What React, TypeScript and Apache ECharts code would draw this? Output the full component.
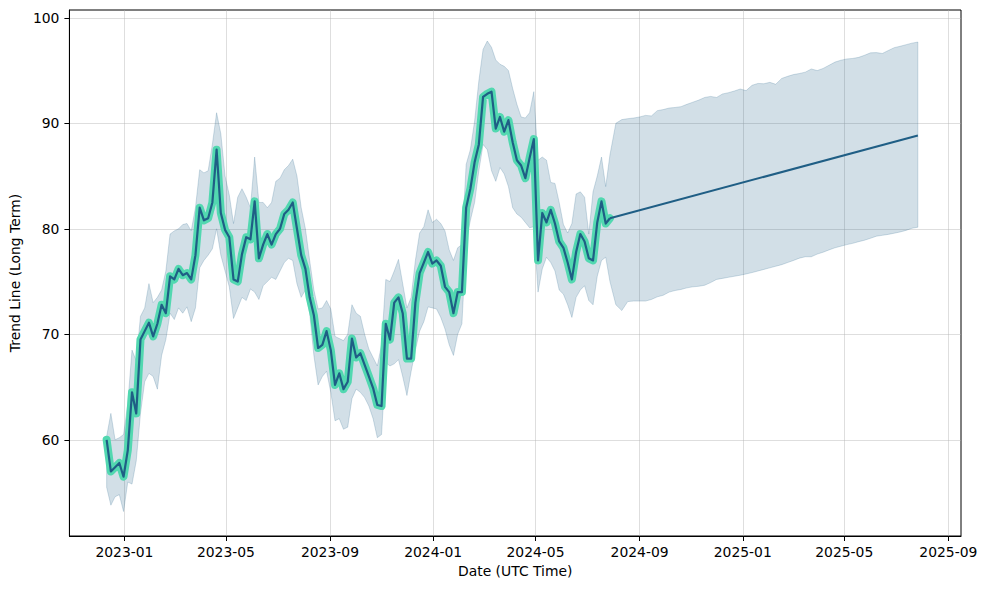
import React, { useEffect, useRef } from "react";
import * as echarts from "echarts";

// ---- data ----
const HIST_START = "2022-12-11";
const HIST_STEP_DAYS = 5;
const histTrend = [
  60.0, 57.0, 57.4, 57.8, 56.5, 59.0, 64.5, 62.5, 69.5, 70.3,
  71.1, 69.8, 71.0, 72.8, 72.0, 75.5, 75.2, 76.2, 75.6, 75.8,
  75.2, 77.5, 82.0, 80.8, 81.0, 82.5, 87.5, 81.5, 79.9, 79.2,
  75.2, 75.0, 77.6, 79.2, 79.0, 82.6, 77.2, 78.5, 79.5, 78.5,
  79.5, 80.0, 81.4, 81.8, 82.5, 80.0, 77.5, 76.2, 73.5, 71.8,
  68.7, 69.0, 70.3, 68.5, 65.2, 66.3, 64.8, 65.5, 69.6, 67.8,
  68.2, 67.1, 66.0, 64.9, 63.3, 63.2, 71.0, 69.5, 73.0, 73.5,
  72.0, 67.7, 67.7, 73.0, 75.8, 76.8, 77.8, 76.7, 77.0, 76.5,
  74.5, 74.0, 72.0, 74.0, 74.0, 82.0, 83.8, 86.3, 88.0, 92.5,
  92.8, 93.0, 89.5, 90.6, 89.2, 90.3, 88.2, 86.5, 86.0, 84.8,
  86.7, 88.5, 77.0, 81.5, 80.6, 81.8, 80.5, 78.8, 78.2, 76.8,
  75.2, 77.8, 79.5, 78.8, 77.2, 77.0, 80.6, 82.6, 80.5, 81.0,
];
const histUpper = [
  60.3, 62.5, 60.0, 60.2, 60.5, 63.4, 68.5, 67.5, 71.7, 72.5,
  74.8, 73.0, 73.5, 74.2, 76.0, 79.5, 79.8, 80.0, 80.4, 80.5,
  79.8, 82.0, 85.6, 85.3, 85.5, 88.0, 91.0, 89.0, 85.0, 83.2,
  80.5, 83.0, 83.8, 83.0, 82.0, 86.8, 82.5, 82.5, 82.0, 82.5,
  84.5, 84.8, 85.6, 86.0, 86.6, 85.0, 82.0, 80.0, 77.0, 74.2,
  72.4, 72.5, 73.2, 72.4, 69.8, 69.6, 69.4, 70.0, 72.8, 72.0,
  71.7, 70.0, 68.6, 67.8, 67.0, 69.0, 75.2, 75.0, 76.0, 77.1,
  74.8, 72.5, 73.5, 77.0, 79.6, 80.2, 81.8, 80.6, 80.9, 80.5,
  79.8, 78.0, 77.0, 78.2, 78.5, 86.1, 87.5, 90.2, 94.0, 97.0,
  97.8, 97.2, 96.0, 95.6, 95.4, 95.0, 93.3, 91.8, 90.6, 90.5,
  91.0, 93.0, 86.5, 86.8, 86.5, 84.4, 84.3, 82.5, 80.4, 79.6,
  80.5, 83.3, 83.5, 83.0, 79.5, 83.5, 85.0, 86.8, 84.0, 87.0,
];
const histLower = [
  55.5, 53.8, 54.6, 54.8, 53.2, 56.0, 55.8, 58.0, 62.5, 65.5,
  66.3, 66.0, 64.8, 68.0, 69.5, 72.0, 71.4, 72.5, 72.0, 72.6,
  71.2, 72.5, 76.3, 77.0, 77.5, 78.1, 80.0, 77.5, 76.0, 74.5,
  71.5, 72.5, 73.5, 73.2, 74.3, 74.0, 73.3, 74.6, 75.0, 75.4,
  75.2, 76.0, 76.8, 77.2, 77.0, 74.8, 73.5, 74.2, 72.0, 68.0,
  65.2, 66.0, 66.5, 64.5, 61.8, 62.0, 61.0, 61.2, 63.9, 64.8,
  64.5, 64.0, 63.2, 62.0, 60.2, 60.5, 67.3, 67.0, 67.2, 67.6,
  66.0, 64.2, 66.5, 68.5, 70.3, 71.2, 72.6, 72.5, 72.4, 71.6,
  70.5, 69.0, 68.0, 70.0, 71.0, 78.8, 80.8, 82.5, 85.5, 88.0,
  87.5, 85.5, 84.5, 85.8, 85.2, 84.0, 82.0, 81.4, 81.1, 80.6,
  80.1, 80.2, 74.0, 76.2, 77.3, 76.8, 76.0, 74.2, 73.8, 72.8,
  71.6, 73.5, 74.2, 74.6, 73.2, 72.8, 75.5, 77.0, 77.3, 75.0,
];

const FC_START = "2024-08-04";
const FC_STEP_DAYS = 7;
const fcUpper = [
  90.0, 90.35, 90.44, 90.5, 90.6, 90.75, 90.7, 91.2, 91.3, 91.45,
  91.5, 91.58, 91.8, 92.0, 92.2, 92.45, 92.55, 92.45, 92.78, 92.9,
  93.06, 93.25, 93.1, 93.6, 93.78, 93.75, 93.88, 93.7, 94.25, 94.45,
  94.62, 94.72, 94.85, 95.15, 95.0, 95.2, 95.5, 95.8, 95.98, 96.1,
  96.15, 96.25, 96.45, 96.68, 96.7, 96.62, 96.9, 97.17, 97.3, 97.45,
  97.6, 97.7,
];
const fcLower = [
  72.8, 72.25, 73.1, 73.15, 73.15, 73.15, 73.3, 73.55, 73.7, 74.0,
  74.15, 74.25, 74.4, 74.5, 74.55, 74.65, 74.9, 75.2, 75.3, 75.4,
  75.5, 75.6, 75.72, 75.85, 76.0, 76.15, 76.3, 76.45, 76.6, 76.8,
  77.0, 77.22, 77.35, 77.35, 77.6, 77.78, 78.0, 78.2, 78.35, 78.5,
  78.62, 78.78, 78.92, 79.1, 79.3, 79.38, 79.47, 79.58, 79.7, 79.85,
  80.05, 80.15,
];
const fcTrendDates = ["2024-07-28", "2025-07-27"];
const fcTrendValues = [81.0, 88.85];

const xTickDates = [
  "2023-01-01", "2023-05-01", "2023-09-01",
  "2024-01-01", "2024-05-01", "2024-09-01",
  "2025-01-01", "2025-05-01", "2025-09-01",
];
const yTicks = [60, 70, 80, 90, 100];
const X_MIN = "2022-10-28";
const X_MAX = "2025-09-16";
const Y_MIN = 50.88;
const Y_MAX = 100.74;

const DAY = 86400000;
const toT = (s: string) => Date.parse(s + "T00:00:00Z");

const LINE_COLOR = "#1f5e85";
const GLOW_COLOR = "#52d8b0";
const BAND_COLOR = "rgba(32,95,134,0.2)";

export default function App() {
  const ref = useRef<HTMLDivElement>(null);

  useEffect(() => {
    if (!ref.current) return;
    const chart = echarts.init(ref.current, undefined, { renderer: "svg" });

    const hStart = toT(HIST_START);
    const fStart = toT(FC_START);
    const histPts = histTrend.map((v, i) => [hStart + i * HIST_STEP_DAYS * DAY, v]);
    const band: number[][] = [];
    histUpper.forEach((u, i) => band.push([hStart + i * HIST_STEP_DAYS * DAY, histLower[i], u]));
    fcUpper.forEach((u, i) => band.push([fStart + i * FC_STEP_DAYS * DAY, fcLower[i], u]));
    const fcPts = fcTrendDates.map((d, i) => [toT(d), fcTrendValues[i]]);

    const font = "'DejaVu Sans', sans-serif";

    chart.setOption({
      animation: false,
      grid: {
        left: 67, right: 27, top: 10, bottom: 54,
        show: true, borderColor: "#000", borderWidth: 1, backgroundColor: "transparent",
      },
      xAxis: {
        type: "value",
        min: toT(X_MIN),
        max: toT(X_MAX),
        name: "Date (UTC Time)",
        nameLocation: "middle",
        nameGap: 28,
        nameTextStyle: { color: "#000", fontSize: 13.9, fontFamily: font },
        axisLine: { show: true, lineStyle: { color: "#000", width: 1 } },
        axisTick: {
          show: true, length: 5, inside: false,
          lineStyle: { color: "#000", width: 1 },
          customValues: xTickDates.map(toT),
        },
        axisLabel: {
          color: "#000", fontSize: 13.9, fontFamily: font, margin: 9,
          customValues: xTickDates.map(toT),
          formatter: (v: number) => new Date(v).toISOString().slice(0, 7),
        },
        splitLine: { show: true, lineStyle: { color: "rgba(176,176,176,0.42)", width: 1 } },
      },
      yAxis: {
        type: "value",
        min: Y_MIN,
        max: Y_MAX,
        name: "Trend Line (Long Term)",
        nameLocation: "middle",
        nameGap: 44,
        nameTextStyle: { color: "#000", fontSize: 13.9, fontFamily: font },
        axisLine: { show: true, lineStyle: { color: "#000", width: 1 } },
        axisTick: {
          show: true, length: 5, inside: false,
          lineStyle: { color: "#000", width: 1 },
          customValues: yTicks,
        },
        axisLabel: {
          color: "#000", fontSize: 13.9, fontFamily: font, margin: 10,
          customValues: yTicks,
        },
        splitLine: { show: true, lineStyle: { color: "rgba(176,176,176,0.42)", width: 1 } },
      },
      series: [
        {
          type: "custom",
          name: "band",
          data: band,
          encode: { x: 0, y: [1, 2] },
          z: 1,
          silent: true,
          renderItem: (params: any, api: any) => {
            if (params.dataIndex !== 0) return null;
            const up = band.map((p) => api.coord([p[0], p[2]]));
            const lo = band.map((p) => api.coord([p[0], p[1]])).reverse();
            return {
              type: "polygon",
              shape: { points: up.concat(lo) },
              style: { fill: BAND_COLOR, stroke: BAND_COLOR, lineWidth: 1 },
            };
          },
        },
        {
          type: "line",
          name: "glow",
          data: histPts,
          showSymbol: false,
          z: 3,
          lineStyle: { color: GLOW_COLOR, width: 8, join: "round", cap: "round" },
        },
        {
          type: "line",
          name: "trend",
          data: histPts,
          showSymbol: false,
          z: 4,
          lineStyle: { color: LINE_COLOR, width: 2.2, join: "round" },
        },
        {
          type: "line",
          name: "forecast",
          data: fcPts,
          showSymbol: false,
          z: 4,
          lineStyle: { color: LINE_COLOR, width: 2 },
        },
      ],
    });

    return () => chart.dispose();
  }, []);

  return (
    <div
      ref={ref}
      style={{ position: "fixed", left: 0, top: 0, width: 988, height: 590, background: "#fff" }}
    />
  );
}
